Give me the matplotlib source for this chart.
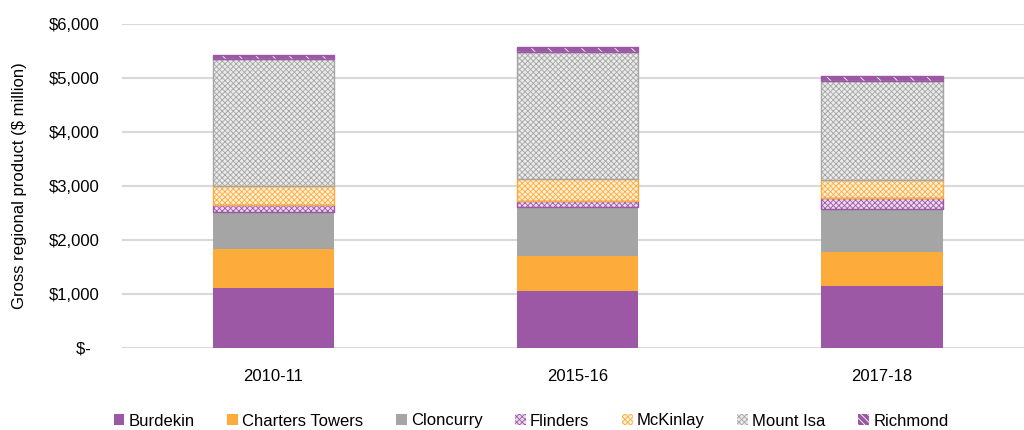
import numpy as np
import matplotlib.pyplot as plt
from matplotlib.patches import Patch

plt.rcParams['font.family'] = ['Liberation Sans', 'DejaVu Sans']
plt.rcParams['hatch.linewidth'] = 0.6

years = ["2010-11", "2015-16", "2017-18"]
regions = ["Burdekin", "Charters Towers", "Cloncurry", "Flinders",
           "McKinlay", "Mount Isa", "Richmond"]

# gross regional product, $ million
burdekin = [1100, 1050, 1150]
charters_towers = [730, 655, 630]
cloncurry = [680, 897, 792]
flinders = [135, 112, 209]
mckinlay = [358, 407, 334]
mount_isa = [2340, 2366, 1824]
richmond = [80, 92, 98]

yticks = [0, 1000, 2000, 3000, 4000, 5000, 6000]
ytick_labels = ["$-  ", "$1,000", "$2,000", "$3,000", "$4,000", "$5,000", "$6,000"]

purple = "#9C57A5"
orange = "#FDAC3C"
grey = "#A5A5A5"

# face colour, hatch colour, hatch pattern, outline colour
styles = [
    (purple, purple, None, None),
    (orange, orange, None, None),
    (grey, grey, None, None),
    ("#EBD9EE", purple, "xxxxxx", purple),
    ("#FFEFD6", orange, "xxxxxx", orange),
    ("#EAEAEA", grey, "xxxxxx", grey),
    (purple, "white", "\\\\", purple),
]

series = [burdekin, charters_towers, cloncurry, flinders, mckinlay, mount_isa, richmond]

fig = plt.figure(figsize=(10.24, 4.3), dpi=100)
ax = fig.add_axes([0.119, 0.1914, 0.881, 0.7528])

x = np.arange(len(years))
width = 0.40
bottom = np.zeros(len(years))
handles = []
for name, vals, (face, hcol, hatch, edge) in zip(regions, series, styles):
    vals = np.array(vals, dtype=float)
    ax.bar(x, vals, width, bottom=bottom, color=face, edgecolor=hcol,
           hatch=hatch, linewidth=0, zorder=3)
    if edge is not None:
        ax.bar(x, vals, width, bottom=bottom, fill=False, edgecolor=edge,
               linewidth=1.0, zorder=4)
    # the legend squares are small, so the stripes need a tighter pitch
    leg_hatch = "\\\\\\\\\\" if hatch == "\\\\" else hatch
    handles.append(Patch(facecolor=face, edgecolor=hcol, hatch=leg_hatch,
                         linewidth=0, label=name))
    bottom += vals

ax.set_xlim(-0.498, 2.467)
ax.set_ylim(0, 6000)
ax.set_yticks(yticks)
ax.set_yticklabels(ytick_labels)
ax.set_xticks(x)
ax.set_xticklabels(years)
ax.tick_params(axis='both', length=0, labelsize=12, colors='black')
ax.tick_params(axis='y', pad=16)
ax.tick_params(axis='x', pad=15)
ax.yaxis.grid(True, color='#D9D9D9', linewidth=1.5, zorder=0)
ax.set_axisbelow(True)
for s in ax.spines.values():
    s.set_visible(False)

ax.set_ylabel("Gross regional product ($ million)", fontsize=12)
ax.yaxis.set_label_coords(-0.105, 0.5)

fig.legend(handles=handles, loc='center', bbox_to_anchor=(531 / 1024, 1 - 421 / 430),
           ncol=7, frameon=False, fontsize=12, handlelength=0.65,
           handleheight=0.65, handletextpad=0.25, columnspacing=1.95)

fig.savefig("out.png", dpi=100)
